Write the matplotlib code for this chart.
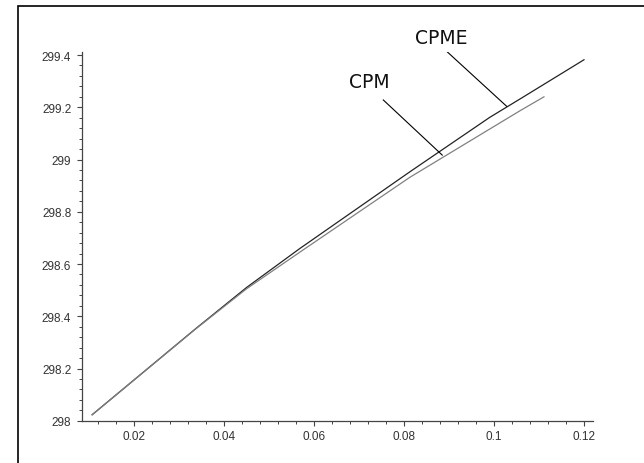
import numpy as np
import matplotlib
matplotlib.use("Agg")
import matplotlib.pyplot as plt
from matplotlib.patches import Rectangle
from matplotlib.ticker import MultipleLocator, FuncFormatter

# values
cpme_x = [0.0107, 0.0336, 0.0450, 0.0569, 0.0813, 0.0991, 0.1058, 0.1200]
cpme_y = [298.023, 298.351, 298.510, 298.660, 298.953, 299.162, 299.232, 299.382]

cpm_x = [0.0107, 0.0336, 0.0450, 0.0569, 0.0813, 0.1058, 0.1111]
cpm_y = [298.023, 298.350, 298.505, 298.646, 298.932, 299.187, 299.240]

x_ticks = [0.02, 0.04, 0.06, 0.08, 0.1, 0.12]
y_ticks = [298, 298.2, 298.4, 298.6, 298.8, 299, 299.2, 299.4]


def fmt(v, pos):
    #maple style labels, no trailing zeros
    s = "%.2f" % v
    s = s.rstrip("0").rstrip(".")
    return s


fig = plt.figure(figsize=(6.44, 4.64), dpi=100)
ax = fig.add_axes([0.1269, 0.0905, 0.7939, 0.7963])

ax.plot(cpme_x, cpme_y, color="#222222", lw=0.9)
ax.plot(cpm_x, cpm_y, color="#808080", lw=0.9)

# labels with leader lines
ax.text(0.0883, 299.469, "CPME", ha="center", va="center", fontsize=13.5,
        family="DejaVu Sans", color="#111111")
ax.plot([0.0895, 0.1028], [299.414, 299.204], color="black", lw=0.8)
ax.text(0.0724, 299.300, "CPM", ha="center", va="center", fontsize=13.5,
        family="DejaVu Sans", color="#111111")
ax.plot([0.0754, 0.0885], [299.228, 299.017], color="black", lw=0.8)

ax.set_xlim(0.008378, 0.1220)
ax.set_ylim(297.999, 299.4135)

for side in ["top", "right"]:
    ax.spines[side].set_visible(False)
for side in ["left", "bottom"]:
    ax.spines[side].set_color("#444444")
    ax.spines[side].set_linewidth(0.9)

ax.set_xticks(x_ticks)
ax.set_yticks(y_ticks)
ax.xaxis.set_minor_locator(MultipleLocator(0.004))
ax.yaxis.set_minor_locator(MultipleLocator(0.04))
ax.xaxis.set_major_formatter(FuncFormatter(fmt))
ax.yaxis.set_major_formatter(FuncFormatter(fmt))

ax.tick_params(which="major", direction="out", length=3.5, width=0.8,
               color="#444444", labelsize=8.5, labelcolor="#333333")
ax.tick_params(which="minor", direction="out", length=2, width=0.7,
               color="#444444")
ax.tick_params(axis="x", which="major", pad=3)
ax.tick_params(axis="y", which="major", pad=4)
for lab in ax.get_xticklabels() + ax.get_yticklabels():
    lab.set_family("Liberation Sans")

# outer frame, clipped at the right and bottom edges
fig.patches.append(Rectangle((18 / 644, -0.1), 2, 1.0849, fill=False,
                             ec="black", lw=1.2, transform=fig.transFigure))

fig.savefig("out.png", dpi=100)
